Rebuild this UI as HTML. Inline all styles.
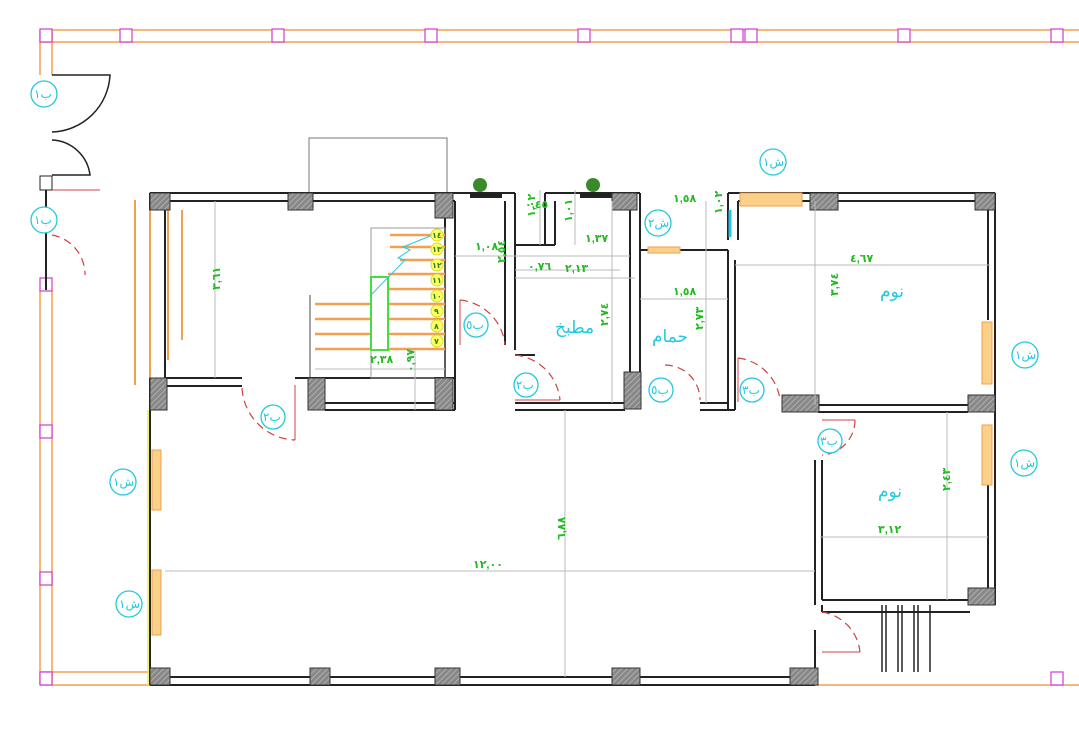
<!DOCTYPE html>
<html><head><meta charset="utf-8"><style>
html,body{margin:0;padding:0;background:#fff;}
svg{display:block;font-family:"Liberation Sans","DejaVu Sans",sans-serif;}
.w{stroke:#222;stroke-width:2;fill:none}
.g{stroke:#bbb;stroke-width:1;fill:none}
.o{stroke:#f0a050;stroke-width:1.5;fill:none}
.m{stroke:#d03ad0;stroke-width:1.2;fill:#fff}
.d{stroke:#d04040;stroke-width:1.2;fill:none;stroke-dasharray:8 5}
.dm{fill:#22bb22;font-size:11px;font-weight:bold}
.rm{fill:#22c8e0;font-size:17px}
.tag{stroke:#22c8e0;stroke-width:1.3;fill:#fff}
.tt{fill:#22c8e0;font-size:12px}
</style></head><body>
<svg width="1079" height="733" viewBox="0 0 1079 733">
<defs>
<pattern id="h" width="4" height="4" patternUnits="userSpaceOnUse" patternTransform="rotate(45)">
<rect width="4" height="4" fill="#888"/><line x1="0" y1="0" x2="0" y2="4" stroke="#bbb" stroke-width="1.5"/></pattern>
</defs>
<!-- site border -->
<line x1="40" y1="30" x2="1079" y2="30" class="o"/>
<line x1="40" y1="42" x2="1079" y2="42" class="o"/>
<line x1="40" y1="685" x2="1079" y2="685" class="o"/>
<line x1="40" y1="672" x2="150" y2="672" class="o"/>
<line x1="40" y1="290" x2="40" y2="685" class="o"/>
<line x1="52" y1="290" x2="52" y2="685" class="o"/>
<line x1="40" y1="30" x2="40" y2="75" class="o"/>
<line x1="52" y1="30" x2="52" y2="75" class="o"/>
<g class="m">
<rect x="40" y="29" width="12" height="13"/><rect x="120" y="29" width="12" height="13"/><rect x="272" y="29" width="12" height="13"/><rect x="425" y="29" width="12" height="13"/><rect x="578" y="29" width="12" height="13"/><rect x="731" y="29" width="12" height="13"/><rect x="745" y="29" width="12" height="13"/><rect x="898" y="29" width="12" height="13"/><rect x="1051" y="29" width="12" height="13"/>
<rect x="40" y="278" width="12" height="13"/><rect x="40" y="425" width="12" height="13"/><rect x="40" y="572" width="12" height="13"/><rect x="40" y="672" width="12" height="13"/><rect x="1051" y="672" width="12" height="13"/>
</g>
<!-- left entrance doors -->
<path d="M52 75 L110 75 A60 60 0 0 1 52 132" stroke="#222" fill="none" stroke-width="1.5"/>
<path d="M52 140 A40 40 0 0 1 90 175 L52 175" stroke="#222" fill="none" stroke-width="1.5"/>
<rect x="40" y="176" width="12" height="14" fill="#fff" stroke="#222"/>
<line x1="52" y1="190" x2="100" y2="190" stroke="#d04040"/>
<path d="M52 235 A40 40 0 0 1 85 275" class="d"/>
<line x1="46" y1="190" x2="46" y2="290" class="w" stroke-width="1.3"/>
<!-- top rectangle -->
<rect x="309" y="138" width="138" height="55" fill="none" stroke="#777"/>
<!-- outer walls -->
<g class="w">
<line x1="150" y1="193" x2="470" y2="193"/><line x1="165" y1="201" x2="455" y2="201"/>
<line x1="470" y1="193" x2="515" y2="193"/><line x1="515" y1="193" x2="515" y2="350"/><line x1="505" y1="201" x2="505" y2="345"/>
<line x1="545" y1="193" x2="640" y2="193"/><line x1="545" y1="193" x2="545" y2="245"/><line x1="555" y1="201" x2="555" y2="245"/>
<line x1="515" y1="245" x2="555" y2="245"/>
<line x1="640" y1="193" x2="640" y2="250"/><line x1="728" y1="193" x2="995" y2="193"/><line x1="738" y1="201" x2="975" y2="201"/>
<line x1="995" y1="193" x2="995" y2="605"/><line x1="988" y1="201" x2="988" y2="320"/><line x1="988" y1="485" x2="988" y2="590"/>
<line x1="150" y1="193" x2="150" y2="685"/><line x1="165" y1="201" x2="165" y2="378"/>
<line x1="150" y1="685" x2="815" y2="685"/><line x1="165" y1="677" x2="815" y2="677"/>
<line x1="815" y1="460" x2="815" y2="605"/><line x1="822" y1="460" x2="822" y2="600"/>
<line x1="815" y1="630" x2="815" y2="685"/><line x1="822" y1="605" x2="822" y2="612"/>
<line x1="822" y1="600" x2="970" y2="600"/><line x1="822" y1="612" x2="970" y2="612"/>
<line x1="165" y1="378" x2="242" y2="378"/><line x1="165" y1="386" x2="242" y2="386"/>
<line x1="295" y1="378" x2="455" y2="378"/><line x1="325" y1="403" x2="455" y2="403"/><line x1="325" y1="410" x2="455" y2="410"/>
<line x1="455" y1="201" x2="455" y2="410"/><line x1="445" y1="201" x2="445" y2="385"/>
<line x1="515" y1="355" x2="535" y2="355"/>
<line x1="515" y1="403" x2="625" y2="403"/><line x1="515" y1="410" x2="625" y2="410"/>
<line x1="630" y1="201" x2="630" y2="372"/><line x1="640" y1="250" x2="640" y2="372"/>
<line x1="640" y1="250" x2="728" y2="250"/>
<line x1="700" y1="403" x2="728" y2="403"/><line x1="700" y1="410" x2="735" y2="410"/>
<line x1="728" y1="250" x2="728" y2="410"/><line x1="735" y1="260" x2="735" y2="410"/>
<line x1="728" y1="193" x2="728" y2="240"/><line x1="738" y1="201" x2="738" y2="240"/>
<line x1="818" y1="405" x2="968" y2="405"/><line x1="818" y1="412" x2="968" y2="412"/>
</g>
<!-- interior thin lines stair -->
<rect x="371" y="228" width="74" height="150" fill="none" stroke="#999"/>
<line x1="310" y1="295" x2="310" y2="378" stroke="#444"/>
<!-- stairs -->
<g stroke="#f0a050" stroke-width="2.5">
<line x1="390" y1="235" x2="445" y2="235"/><line x1="390" y1="247" x2="445" y2="247"/><line x1="400" y1="260" x2="445" y2="260"/><line x1="388" y1="274" x2="445" y2="274"/><line x1="388" y1="289" x2="445" y2="289"/><line x1="388" y1="304" x2="445" y2="304"/><line x1="388" y1="319" x2="445" y2="319"/><line x1="388" y1="334" x2="445" y2="334"/><line x1="388" y1="349" x2="445" y2="349"/>
<line x1="315" y1="304" x2="371" y2="304"/><line x1="315" y1="319" x2="371" y2="319"/><line x1="315" y1="334" x2="371" y2="334"/><line x1="315" y1="349" x2="371" y2="349"/>
</g>
<rect x="371" y="277" width="17" height="73" fill="#fff" stroke="#44dd44" stroke-width="2"/>
<path d="M371 295 L405 260 L398 258 L410 250 L403 247 L440 232" stroke="#22c8e0" fill="none"/>
<g font-size="8" font-weight="bold" fill="#228822">
<g fill="#ffff66" stroke="#dddd22"><circle cx="437" cy="235" r="6"/><circle cx="437" cy="249" r="6"/><circle cx="437" cy="265" r="6"/><circle cx="437" cy="280" r="6"/><circle cx="437" cy="296" r="6"/><circle cx="437" cy="311" r="6"/><circle cx="437" cy="326" r="6"/><circle cx="437" cy="341" r="6"/></g>
<text x="432" y="238">١٤</text><text x="432" y="252">١٣</text><text x="432" y="268">١٢</text><text x="432" y="283">١١</text><text x="432" y="299">١٠</text><text x="434" y="314">٩</text><text x="434" y="329">٨</text><text x="434" y="344">٧</text>
</g>
<!-- left windows verticals -->
<g stroke="#f0a050" stroke-width="2"><line x1="135" y1="200" x2="135" y2="385"/><line x1="150" y1="210" x2="150" y2="378"/><line x1="168" y1="210" x2="168" y2="360"/><line x1="182" y1="210" x2="182" y2="340"/></g>
<rect x="152" y="450" width="9" height="60" fill="#fbd089" stroke="#f0a050"/>
<rect x="152" y="570" width="9" height="65" fill="#fbd089" stroke="#f0a050"/>
<line x1="148" y1="410" x2="148" y2="685" stroke="#eeee44" stroke-width="1.5"/>
<rect x="740" y="193" width="62" height="13" fill="#fbd089" stroke="#f0a050"/>
<rect x="982" y="322" width="10" height="62" fill="#fbd089" stroke="#f0a050"/>
<rect x="982" y="425" width="10" height="60" fill="#fbd089" stroke="#f0a050"/>
<rect x="648" y="247" width="32" height="6" fill="#fbd089" stroke="#f0a050"/>
<line x1="730" y1="210" x2="730" y2="237" stroke="#22c8e0" stroke-width="3"/>
<!-- small black windows -->
<rect x="470" y="193" width="32" height="5" fill="#222"/><rect x="580" y="193" width="32" height="5" fill="#222"/>
<circle cx="480" cy="185" r="7" fill="#3a8a2a"/><circle cx="593" cy="185" r="7" fill="#3a8a2a"/>
<!-- pillars -->
<g fill="url(#h)" stroke="#333">
<rect x="150" y="193" width="20" height="17"/><rect x="288" y="193" width="25" height="17"/><rect x="435" y="193" width="18" height="25"/><rect x="612" y="193" width="25" height="17"/><rect x="810" y="193" width="28" height="17"/><rect x="975" y="193" width="20" height="17"/>
<rect x="150" y="378" width="17" height="32"/><rect x="308" y="378" width="17" height="32"/><rect x="435" y="378" width="18" height="32"/><rect x="624" y="372" width="17" height="37"/><rect x="968" y="395" width="27" height="17"/><rect x="782" y="395" width="37" height="17"/>
<rect x="150" y="668" width="20" height="17"/><rect x="310" y="668" width="20" height="17"/><rect x="435" y="668" width="25" height="17"/><rect x="612" y="668" width="28" height="17"/><rect x="790" y="668" width="28" height="17"/><rect x="968" y="588" width="27" height="17"/>
</g>
<!-- entry steps -->
<g stroke="#222" stroke-width="1.5"><line x1="882" y1="605" x2="882" y2="672"/><line x1="886" y1="605" x2="886" y2="672"/><line x1="898" y1="605" x2="898" y2="672"/><line x1="902" y1="605" x2="902" y2="672"/><line x1="914" y1="605" x2="914" y2="672"/><line x1="918" y1="605" x2="918" y2="672"/><line x1="930" y1="605" x2="930" y2="672"/></g>
<!-- dimension lines -->
<g class="g">
<line x1="215" y1="201" x2="215" y2="378"/><line x1="165" y1="571" x2="815" y2="571"/><line x1="565" y1="410" x2="565" y2="677"/>
<line x1="735" y1="265" x2="990" y2="265"/><line x1="815" y1="201" x2="815" y2="405"/>
<line x1="820" y1="537" x2="988" y2="537"/><line x1="947" y1="412" x2="947" y2="600"/>
<line x1="455" y1="256" x2="630" y2="256"/><line x1="515" y1="270" x2="620" y2="270"/><line x1="515" y1="278" x2="635" y2="278"/>
<line x1="612" y1="201" x2="612" y2="403"/><line x1="640" y1="299" x2="728" y2="299"/><line x1="706" y1="201" x2="706" y2="403"/>
<line x1="315" y1="369" x2="445" y2="369"/><line x1="415" y1="350" x2="415" y2="410"/>
<line x1="540" y1="190" x2="540" y2="245"/><line x1="575" y1="190" x2="575" y2="245"/>
</g>
<!-- dims text -->
<g class="dm">
<text x="210" y="300" transform="rotate(-90 210 290)">٣,٦١</text>
<text x="475" y="250">١,٠٨</text><text x="500" y="278" transform="rotate(-90 495 268)">٢,٥٤</text>
<text x="528" y="270">٠,٧٦</text><text x="565" y="272">٢,١٣</text><text x="585" y="242">١,٣٧</text>
<text x="525" y="208">٠,٤٥</text><text x="537" y="225" transform="rotate(-90 532 222)">١,٠٢</text><text x="570" y="232" transform="rotate(-90 566 226)">١,٠١</text>
<text x="607" y="335" transform="rotate(-90 603 330)">٢,٧٤</text><text x="720" y="232" transform="rotate(-90 712 222)">١,٠٢</text>
<text x="673" y="202">١,٥٨</text><text x="673" y="295">١,٥٨</text><text x="700" y="345" transform="rotate(-90 694 336)">٢,٧٣</text>
<text x="850" y="262">٤,٦٧</text><text x="832" y="310" transform="rotate(-90 828 300)">٣,٧٤</text>
<text x="370" y="363">٢,٣٨</text><text x="410" y="388" transform="rotate(-90 404 378)">٠,٩٧</text>
<text x="878" y="533">٣,١٢</text><text x="944" y="505" transform="rotate(-90 940 495)">٢,٤٣</text>
<text x="560" y="555" transform="rotate(-90 555 545)">٦,٨٨</text><text x="473" y="568">١٢,٠٠</text>
</g>
<!-- room labels -->
<g class="rm"><text x="555" y="333">مطبخ</text><text x="652" y="342">حمام</text><text x="880" y="297">نوم</text><text x="878" y="497">نوم</text></g>
<!-- door arcs -->
<g class="d">
<path d="M460 300 A50 50 0 0 1 505 345"/><path d="M515 355 A50 50 0 0 1 560 400"/>
<path d="M242 388 A55 55 0 0 0 295 440"/><path d="M738 358 A48 48 0 0 1 780 400"/>
<path d="M855 420 A35 35 0 0 1 822 455"/><path d="M822 612 A45 45 0 0 1 860 652"/>
<path d="M665 365 A35 35 0 0 1 700 400"/>
</g>
<g stroke="#d04040" fill="none"><line x1="460" y1="300" x2="460" y2="345"/><line x1="515" y1="400" x2="560" y2="400"/><line x1="295" y1="385" x2="295" y2="440"/><line x1="738" y1="358" x2="738" y2="402"/><line x1="822" y1="420" x2="855" y2="420"/><line x1="822" y1="652" x2="860" y2="652"/></g>
<!-- tags -->
<g class="tag">
<circle cx="44" cy="94" r="13"/><circle cx="44" cy="220" r="13"/><circle cx="773" cy="162" r="13"/><circle cx="658" cy="223" r="13"/>
<circle cx="476" cy="325" r="12"/><circle cx="526" cy="385" r="12"/><circle cx="273" cy="417" r="12"/><circle cx="661" cy="390" r="12"/><circle cx="752" cy="390" r="12"/><circle cx="830" cy="441" r="12"/>
<circle cx="1025" cy="355" r="13"/><circle cx="1024" cy="463" r="13"/><circle cx="123" cy="482" r="13"/><circle cx="129" cy="604" r="13"/>
</g>
<g class="tt">
<text x="34" y="98">ب١</text><text x="34" y="224">ب١</text><text x="763" y="166">ش١</text><text x="648" y="227">ش٢</text>
<text x="466" y="329">ب٥</text><text x="516" y="389">ب٢</text><text x="263" y="421">ب٢</text><text x="651" y="394">ب٥</text><text x="742" y="394">ب٣</text><text x="820" y="445">ب٣</text>
<text x="1015" y="359">ش١</text><text x="1014" y="467">ش١</text><text x="113" y="486">ش١</text><text x="119" y="608">ش١</text>
</g>
</svg>
</body></html>
